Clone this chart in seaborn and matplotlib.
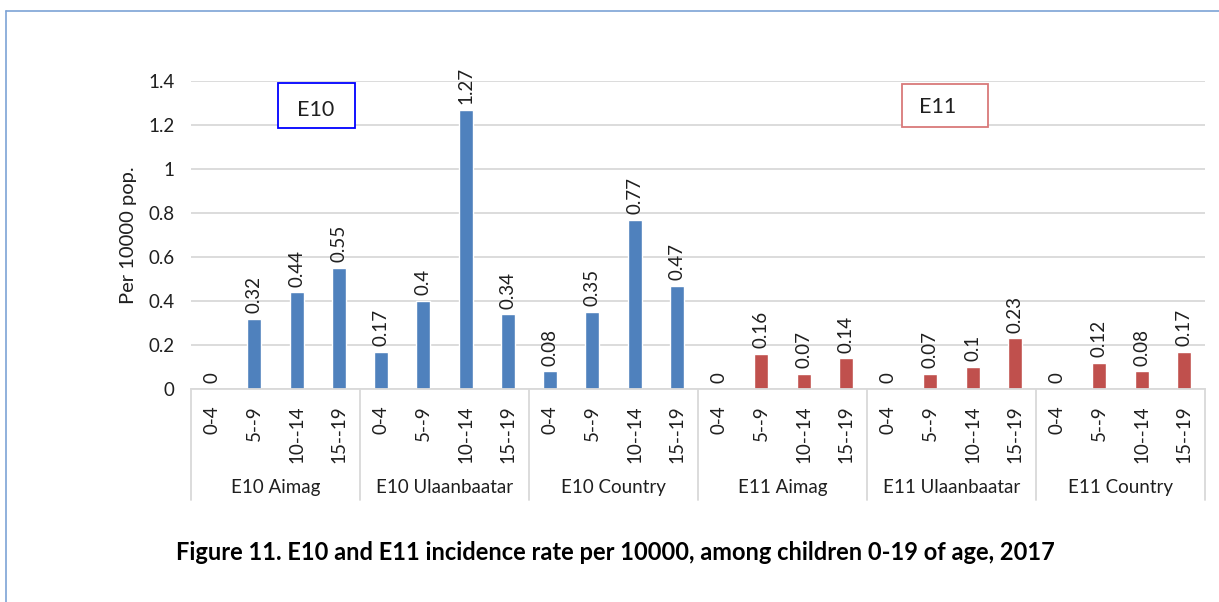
import matplotlib
matplotlib.use("Agg")
import matplotlib.pyplot as plt
import matplotlib.transforms as mtransforms
from matplotlib.lines import Line2D
from matplotlib.patches import Rectangle
import seaborn as sns
import pandas as pd

# Data
groups = ["E10 Aimag", "E10 Ulaanbaatar", "E10 Country",
          "E11 Aimag", "E11 Ulaanbaatar", "E11 Country"]
age_bands = ["0-4", "5--9", "10--14", "15--19"]
e10_aimag = [0, 0.32, 0.44, 0.55]
e10_ulaanbaatar = [0.17, 0.4, 1.27, 0.34]
e10_country = [0.08, 0.35, 0.77, 0.47]
e11_aimag = [0, 0.16, 0.07, 0.14]
e11_ulaanbaatar = [0, 0.07, 0.1, 0.23]
e11_country = [0, 0.12, 0.08, 0.17]
series = [e10_aimag, e10_ulaanbaatar, e10_country,
          e11_aimag, e11_ulaanbaatar, e11_country]

y_ticks = [0, 0.2, 0.4, 0.6, 0.8, 1, 1.2, 1.4]
y_tick_labels = ["0", "0.2", "0.4", "0.6", "0.8", "1", "1.2", "1.4"]
title = "Figure 11. E10 and E11 incidence rate per 10000, among children 0-19 of age, 2017"

rows = []
for g, vals in zip(groups, series):
    for a, v in zip(age_bands, vals):
        rows.append({"key": f"{g}|{a}", "group": g, "age": a,
                     "disease": g.split()[0], "value": v})
df = pd.DataFrame(rows)

sns.set_theme(style="white")
plt.rcParams["font.family"] = ["Lato", "DejaVu Sans"]

BLUE = "#4F81BD"
RED = "#C0504D"
GRID = "#D9D9D9"
TEXT = "#1F1F1F"
FS = 13.5

fig = plt.figure(figsize=(12.19, 6.02), dpi=100)
ax = fig.add_axes([191 / 1219, 1 - 389 / 602, (1205 - 191) / 1219, 308 / 602])

sns.barplot(data=df, x="key", y="value", hue="disease",
            palette={"E10": BLUE, "E11": RED}, dodge=False, saturation=1,
            width=0.33, legend=False, ax=ax, order=df["key"].tolist())

ax.set_xlim(-0.5, len(df) - 0.5)
ax.set_ylim(0, 1.4)
ax.set_yticks(y_ticks)
ax.set_yticklabels(y_tick_labels, fontsize=FS, color=TEXT)
ax.yaxis.grid(True, color=GRID, linewidth=1.3)
ax.set_axisbelow(True)
ax.set_ylabel("Per 10000 pop.", fontsize=14.5, color=TEXT, labelpad=8)
ax.set_xlabel("")

ax.set_xticks(range(len(df)))
ax.set_xticklabels(df["age"], rotation=90, fontsize=FS, color=TEXT)
ax.tick_params(axis="both", length=0)
ax.tick_params(axis="x", pad=12)
ax.tick_params(axis="y", pad=12)

for side in ["top", "right", "left"]:
    ax.spines[side].set_visible(False)
ax.spines["bottom"].set_color(GRID)
ax.spines["bottom"].set_linewidth(1.3)

# Value labels above bars
for i, v in enumerate(df["value"]):
    ax.annotate(f"{v:g}", (i, v), xytext=(0, 4), textcoords="offset points",
                rotation=90, ha="center", va="bottom", fontsize=FS,
                color=TEXT)

# Grouped category axis: separators and group names
trans = mtransforms.blended_transform_factory(ax.transData, ax.transAxes)
n = len(age_bands)
for k in range(len(groups) + 1):
    xpos = k * n - 0.5
    ax.add_line(Line2D([xpos, xpos], [0, -0.36], transform=trans,
                       color=GRID, linewidth=1.3, clip_on=False))
for k, g in enumerate(groups):
    ax.text(k * n + (n - 1) / 2, -0.321, g, transform=trans, ha="center",
            va="center", fontsize=FS, color=TEXT)

# Labelled boxes marking the two diagnoses
def label_box(x0, y0, x1, y1, text, edge, tx, ty):
    fig.add_artist(Rectangle((x0 / 1219, 1 - y1 / 602), (x1 - x0) / 1219,
                             (y1 - y0) / 602, transform=fig.transFigure,
                             facecolor="white", edgecolor=edge, linewidth=1.3))
    fig.text(tx / 1219, 1 - ty / 602, text, ha="center", va="center",
             fontsize=15.5, color=TEXT)

label_box(278, 83, 355, 128, "E10", "#0000FF", 316, 110)
label_box(902, 84, 988, 127, "E11", "#D9797A", 938, 107)

# Outer frame (left and top edges)
fig.add_artist(Line2D([6 / 1219, 6 / 1219], [0, 1 - 11 / 602],
                      transform=fig.transFigure, color="#7DA3D5", linewidth=1.2))
fig.add_artist(Line2D([6 / 1219, 1], [1 - 11 / 602, 1 - 11 / 602],
                      transform=fig.transFigure, color="#7DA3D5", linewidth=1.2))

fig.text(615 / 1219, 1 - 552 / 602, title, ha="center", va="center",
         fontsize=17, fontweight="bold", color="#000000")

fig.savefig("out.png", dpi=100, facecolor="white")
